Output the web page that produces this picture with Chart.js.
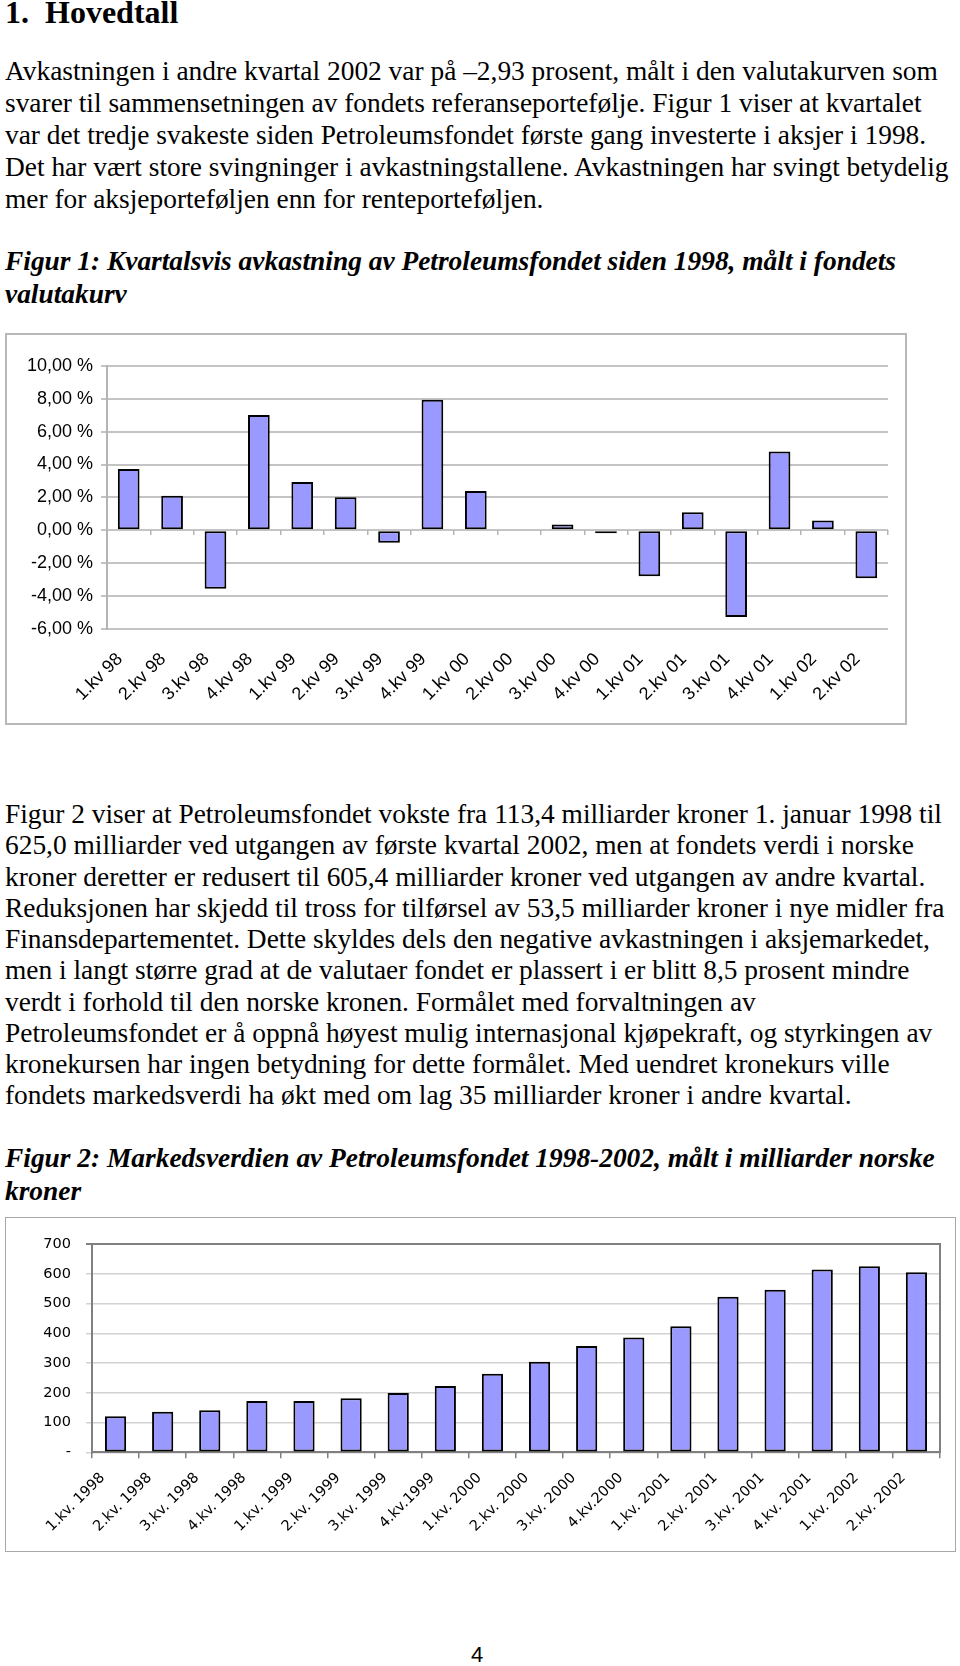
<!DOCTYPE html>
<html lang="no">
<head>
<meta charset="utf-8">
<title>Hovedtall</title>
<script src="https://cdn.jsdelivr.net/npm/chart.js@4.4.1/dist/chart.umd.min.js"></script>
<style>
  body {
    margin: 0;
    width: 960px;
    height: 1666px;
    position: relative;
    overflow: hidden;
    background: #fff;
    color: #000;
    font-family: "Liberation Serif", "Times New Roman", serif;
  }
  .tekst {
    position: absolute;
    left: 5px;
    font-size: 27.4px;
    white-space: nowrap;
  }
  .figtittel {
    font-weight: bold;
    font-style: italic;
  }
  .ramme {
    position: absolute;
    box-sizing: border-box;
  }
  canvas { position: absolute; }
</style>
</head>
<body>

<div class="tekst" style="top:-4px;font-size:32px;line-height:32px;font-weight:bold">1.</div>
<div class="tekst" style="top:-4px;left:45px;font-size:32px;line-height:32px;font-weight:bold">Hovedtall</div>

<div class="tekst" style="top:56px;line-height:31.9px">
Avkastningen i andre kvartal 2002 var på –2,93 prosent, målt i den valutakurven som<br>
svarer til sammensetningen av fondets referanseportefølje. Figur 1 viser at kvartalet<br>
var det tredje svakeste siden Petroleumsfondet første gang investerte i aksjer i 1998.<br>
Det har vært store svingninger i avkastningstallene. Avkastningen har svingt betydelig<br>
mer for aksjeporteføljen enn for renteporteføljen.
</div>

<div class="tekst figtittel" style="top:245px;line-height:32.8px">
Figur 1: Kvartalsvis avkastning av Petroleumsfondet siden 1998, målt i fondets<br>
valutakurv
</div>

<div class="ramme" style="left:5px;top:333px;width:902px;height:392px;border:2px solid #b8b8b8"></div>
<canvas id="fig1" width="902" height="392" style="left:5px;top:333px"></canvas>

<div class="tekst" style="top:799px;line-height:31.27px">
Figur 2 viser at Petroleumsfondet vokste fra 113,4 milliarder kroner 1. januar 1998 til<br>
625,0 milliarder ved utgangen av første kvartal 2002, men at fondets verdi i norske<br>
kroner deretter er redusert til 605,4 milliarder kroner ved utgangen av andre kvartal.<br>
Reduksjonen har skjedd til tross for tilførsel av 53,5 milliarder kroner i nye midler fra<br>
Finansdepartementet. Dette skyldes dels den negative avkastningen i aksjemarkedet,<br>
men i langt større grad at de valutaer fondet er plassert i er blitt 8,5 prosent mindre<br>
verdt i forhold til den norske kronen. Formålet med forvaltningen av<br>
Petroleumsfondet er å oppnå høyest mulig internasjonal kjøpekraft, og styrkingen av<br>
kronekursen har ingen betydning for dette formålet. Med uendret kronekurs ville<br>
fondets markedsverdi ha økt med om lag 35 milliarder kroner i andre kvartal.
</div>

<div class="tekst figtittel" style="top:1142px;line-height:32.9px">
Figur 2: Markedsverdien av Petroleumsfondet 1998-2002, målt i milliarder norske<br>
kroner
</div>

<div class="ramme" style="left:5px;top:1217px;width:951px;height:335px;border:1.5px solid #a8a8a8"></div>
<canvas id="fig2" width="951" height="335" style="left:5px;top:1217px"></canvas>

<div style="position:absolute;left:0;width:954px;top:1644px;text-align:center;font-family:'Liberation Sans',Arial,sans-serif;font-size:22px;line-height:22px">4</div>

<script>
// Figur 1: kvartalsvis avkastning (prosent)
const kvartaler = ['1.kv 98', '2.kv 98', '3.kv 98', '4.kv 98', '1.kv 99', '2.kv 99', '3.kv 99', '4.kv 99',
    '1.kv 00', '2.kv 00', '3.kv 00', '4.kv 00', '1.kv 01', '2.kv 01', '3.kv 01', '4.kv 01', '1.kv 02', '2.kv 02'];
const avkastning = [3.72, 2.09, -3.56, 7.01, 2.93, 2.01, -0.77, 7.95,
    2.38, 0, 0.34, -0.19, -2.80, 1.10, -5.29, 4.79, 0.59, -2.93];
const avkTickLabels = ['-6,00 %', '-4,00 %', '-2,00 %', '0,00 %', '2,00 %', '4,00 %', '6,00 %', '8,00 %', '10,00 %'];

// Figur 2: markedsverdi, milliarder kroner
const datoer = ['1.kv. 1998', '2.kv. 1998', '3.kv. 1998', '4.kv. 1998', '1.kv. 1999', '2.kv. 1999', '3.kv. 1999', '4.kv.1999',
    '1.kv. 2000', '2.kv. 2000', '3.kv. 2000', '4.kv.2000', '1.kv. 2001', '2.kv. 2001', '3.kv. 2001', '4.kv. 2001',
    '1.kv. 2002', '2.kv. 2002'];
const markedsverdi = [121, 136, 141, 172, 172, 182, 199, 223,
    264, 304, 357, 386, 424, 523, 546, 614, 625, 605];
const verdiTickLabels = ['-', '100', '200', '300', '400', '500', '600', '700'];

const stolpeFarge = '#9999ff';

// Figur 1
new Chart(document.getElementById('fig1'), {
    type: 'bar',
    data: {
        labels: kvartaler,
        datasets: [{
            data: avkastning,
            backgroundColor: stolpeFarge,
            borderColor: '#000',
            borderWidth: 2,
            borderSkipped: false,
            categoryPercentage: 1,
            barPercentage: 0.5
        }]
    },
    options: {
        responsive: false,
        animation: false,
        layout: { padding: { top: 33, right: 19, left: 0, bottom: 0 } },
        plugins: { legend: { display: false }, tooltip: { enabled: false } },
        scales: {
            y: {
                min: -6,
                max: 10,
                ticks: {
                    stepSize: 2,
                    color: '#000',
                    padding: 8,
                    font: { family: 'Liberation Sans', size: 18 },
                    callback: (v, i) => avkTickLabels[i]
                },
                grid: { color: '#c4c4c4', lineWidth: 2, tickLength: 6 },
                border: { color: '#b4b4b4', width: 2 },
                afterFit: s => { s.width = 102; }
            },
            // tick marks along the zero line
            x: {
                position: { y: 0 },
                ticks: { display: false },
                grid: { drawOnChartArea: false, color: '#b4b4b4', lineWidth: 1.5, tickLength: 5, offset: true },
                border: { display: false }
            },
            // category labels at the bottom
            x2: {
                type: 'category',
                labels: kvartaler,
                position: 'bottom',
                ticks: {
                    color: '#000',
                    autoSkip: false,
                    maxRotation: 45,
                    minRotation: 45,
                    padding: 12,
                    labelOffset: -9,
                    font: { family: 'Liberation Sans', size: 18 }
                },
                grid: { display: false },
                border: { display: false },
                afterFit: s => { s.height = 96.3; }
            }
        }
    }
});

// Figur 2
new Chart(document.getElementById('fig2'), {
    type: 'bar',
    data: {
        labels: datoer,
        datasets: [{
            data: markedsverdi,
            backgroundColor: stolpeFarge,
            borderColor: '#000',
            borderWidth: 2,
            borderSkipped: false,
            categoryPercentage: 1,
            barPercentage: 0.45
        }]
    },
    options: {
        responsive: false,
        animation: false,
        layout: { padding: { top: 27, right: 16, left: 0, bottom: 0 } },
        plugins: { legend: { display: false }, tooltip: { enabled: false } },
        scales: {
            y: {
                min: 0,
                max: 700,
                ticks: {
                    stepSize: 100,
                    color: '#000',
                    padding: 15,
                    font: { family: 'DejaVu Sans', size: 14.5 },
                    callback: (v, i) => verdiTickLabels[i]
                },
                grid: {
                    color: ctx => (ctx.tick && ctx.tick.value === 700) ? '#808080' : '#d2d2d2',
                    lineWidth: ctx => (ctx.tick && ctx.tick.value === 700) ? 2 : 1.5,
                    tickLength: 6
                },
                border: { color: '#808080', width: 2 },
                afterFit: s => { s.width = 87; }
            },
            yHoyre: {
                position: 'right',
                min: 0,
                max: 700,
                ticks: { display: false },
                grid: { display: false },
                border: { color: '#808080', width: 2 },
                afterFit: s => { s.width = 0; }
            },
            x: {
                ticks: {
                    color: '#000',
                    autoSkip: false,
                    maxRotation: 45,
                    minRotation: 45,
                    padding: 11,
                    labelOffset: -13,
                    font: { family: 'DejaVu Sans', size: 14.5 }
                },
                grid: { drawOnChartArea: false, color: '#808080', lineWidth: 1.5, tickLength: 6, offset: true },
                border: { color: '#808080', width: 2 },
                afterFit: s => { s.height = 99.7; }
            }
        }
    }
});
</script>
</body>
</html>
